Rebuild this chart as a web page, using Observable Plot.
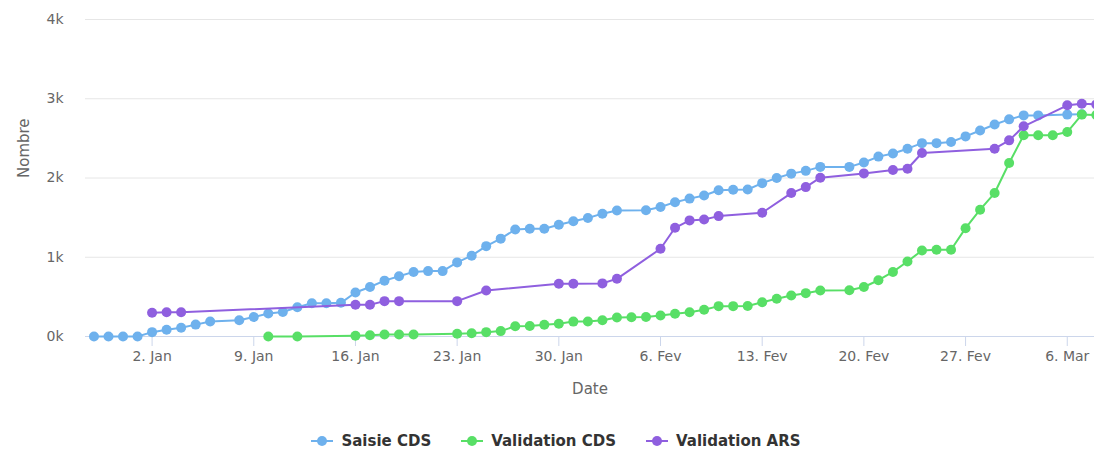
<!DOCTYPE html>
<html><head><meta charset="utf-8">
<script src="https://cdn.jsdelivr.net/npm/d3@7"></script>
<script src="https://cdn.jsdelivr.net/npm/@observablehq/plot@0.6"></script>
<style>
body{margin:0;background:#fff;font-family:"DejaVu Sans",sans-serif;}
#chart svg{display:block;}
#legend{display:flex;justify-content:center;align-items:center;gap:30px;padding-top:20px;padding-left:18px;height:22px;font-family:"DejaVu Sans",sans-serif;font-size:15px;font-weight:bold;color:#333;}
#legend .item{display:flex;align-items:center;gap:8px;}
</style></head><body>
<div id="chart"></div>
<div id="legend"></div>
<script>
// ---- data ----
const seriesNames = ["Saisie CDS", "Validation CDS", "Validation ARS"];
const seriesColors = ["#6eb1ed", "#58df66", "#8f5fdf"];

const saisieDates = ["2020-12-29","2020-12-30","2020-12-31","2021-01-01","2021-01-02","2021-01-03","2021-01-04","2021-01-05","2021-01-06","2021-01-08","2021-01-09","2021-01-10","2021-01-11","2021-01-12","2021-01-13","2021-01-14","2021-01-15","2021-01-16","2021-01-17","2021-01-18","2021-01-19","2021-01-20","2021-01-21","2021-01-22","2021-01-23","2021-01-24","2021-01-25","2021-01-26","2021-01-27","2021-01-28","2021-01-29","2021-01-30","2021-01-31","2021-02-01","2021-02-02","2021-02-03","2021-02-05","2021-02-06","2021-02-07","2021-02-08","2021-02-09","2021-02-10","2021-02-11","2021-02-12","2021-02-13","2021-02-14","2021-02-15","2021-02-16","2021-02-17","2021-02-19","2021-02-20","2021-02-21","2021-02-22","2021-02-23","2021-02-24","2021-02-25","2021-02-26","2021-02-27","2021-02-28","2021-03-01","2021-03-02","2021-03-03","2021-03-04","2021-03-06","2021-03-07"];
const saisieValues = [0,0,0,0,55,85,110,150,190,205,245,290,310,370,420,420,425,555,625,705,760,815,825,825,935,1020,1140,1235,1350,1360,1360,1410,1455,1495,1550,1590,1592,1635,1695,1740,1780,1845,1852,1855,1935,2000,2055,2090,2140,2140,2195,2270,2310,2370,2440,2440,2455,2525,2600,2675,2740,2790,2790,2800,2805];

const validCdsDates = ["2021-01-10","2021-01-12","2021-01-16","2021-01-17","2021-01-18","2021-01-19","2021-01-20","2021-01-23","2021-01-24","2021-01-25","2021-01-26","2021-01-27","2021-01-28","2021-01-29","2021-01-30","2021-01-31","2021-02-01","2021-02-02","2021-02-03","2021-02-04","2021-02-05","2021-02-06","2021-02-07","2021-02-08","2021-02-09","2021-02-10","2021-02-11","2021-02-12","2021-02-13","2021-02-14","2021-02-15","2021-02-16","2021-02-17","2021-02-19","2021-02-20","2021-02-21","2021-02-22","2021-02-23","2021-02-24","2021-02-25","2021-02-26","2021-02-27","2021-02-28","2021-03-01","2021-03-02","2021-03-03","2021-03-04","2021-03-05","2021-03-06","2021-03-07","2021-03-08"];
const validCdsValues = [0,0,10,15,25,25,25,35,42,55,68,130,132,148,160,188,190,205,240,244,245,265,287,307,337,383,383,385,433,476,518,547,581,583,625,710,815,947,1086,1094,1094,1367,1600,1810,2190,2540,2540,2540,2580,2800,2795];

const validArsDates = ["2021-01-02","2021-01-03","2021-01-04","2021-01-16","2021-01-17","2021-01-18","2021-01-19","2021-01-23","2021-01-25","2021-01-30","2021-01-31","2021-02-02","2021-02-03","2021-02-06","2021-02-07","2021-02-08","2021-02-09","2021-02-10","2021-02-13","2021-02-15","2021-02-16","2021-02-17","2021-02-20","2021-02-22","2021-02-23","2021-02-24","2021-03-01","2021-03-02","2021-03-03","2021-03-06","2021-03-07","2021-03-08"];
const validArsValues = [300,305,305,400,400,446,446,446,580,665,665,670,728,1107,1372,1465,1477,1519,1562,1810,1885,2004,2058,2100,2117,2315,2370,2475,2652,2917,2938,2929];

const xTickDates = ["2021-01-02","2021-01-09","2021-01-16","2021-01-23","2021-01-30","2021-02-06","2021-02-13","2021-02-20","2021-02-27","2021-03-06"];
const xTickLabels = ["2. Jan","9. Jan","16. Jan","23. Jan","30. Jan","6. Fev","13. Fev","20. Fev","27. Fev","6. Mar"];
const yTickValues = [0,1000,2000,3000,4000];
const yTickLabels = ["0k","1k","2k","3k","4k"];
const xTitle = "Date";
const yTitle = "Nombre";

// ---- build ----
const toRows = (dates, values, name) => dates.map((d, i) => ({date: new Date(d + "T00:00:00Z"), value: values[i], series: name}));
const allSeries = [
  toRows(saisieDates, saisieValues, seriesNames[0]),
  toRows(validCdsDates, validCdsValues, seriesNames[1]),
  toRows(validArsDates, validArsValues, seriesNames[2])
];
const xTicks = xTickDates.map(d => new Date(d + "T00:00:00Z"));
const xLabelMap = new Map(xTicks.map((d, i) => [d.getTime(), xTickLabels[i]]));
const yLabelMap = new Map(yTickValues.map((v, i) => [v, yTickLabels[i]]));

const xDomain = [new Date(Date.UTC(2020, 11, 28, 10)), new Date(Date.UTC(2021, 2, 7, 21))];

const seriesMarks = allSeries.flatMap((rows, i) => [
  Plot.line(rows, {x: "date", y: "value", stroke: seriesColors[i], strokeWidth: 2}),
  Plot.dot(rows, {x: "date", y: "value", fill: seriesColors[i], r: 5, stroke: "none"})
]);

const chart = Plot.plot({
  width: 1094, height: 410,
  marginLeft: 85, marginRight: 0, marginTop: 19, marginBottom: 74,
  style: {fontFamily: '"DejaVu Sans", sans-serif', fontSize: "14px", color: "#666", background: "#fff", overflow: "hidden"},
  x: {type: "utc", domain: xDomain},
  y: {domain: [0, 4000]},
  marks: [
    Plot.gridY(yTickValues, {stroke: "#e6e6e6", strokeOpacity: 1, strokeWidth: 1}),
    Plot.ruleY([0], {stroke: "#ccd6eb"}),
    Plot.axisY(yTickValues, {tickSize: 0, tickPadding: 22, tickFormat: v => yLabelMap.get(v), label: null, fill: "#666", fontSize: 14}),
    Plot.axisX(xTicks, {tickSize: 10, tickPadding: 5, stroke: "#ccd6eb", tickFormat: d => xLabelMap.get(d.getTime()), label: null, fill: "#666", fontSize: 14}),
    Plot.text([xTitle], {frameAnchor: "bottom", dy: 57, fontSize: 15, fill: "#666"}),
    Plot.text([yTitle], {frameAnchor: "left", dx: -61, rotate: -90, fontSize: 15, fill: "#666"}),
    ...seriesMarks
  ]
});
document.getElementById("chart").appendChild(chart);

const legend = document.getElementById("legend");
seriesNames.forEach((name, i) => {
  const item = document.createElement("div");
  item.className = "item";
  item.innerHTML = `<svg width="22" height="12"><line x1="0" x2="22" y1="6" y2="6" stroke="${seriesColors[i]}" stroke-width="2"/><circle cx="11" cy="6" r="5" fill="${seriesColors[i]}"/></svg><span>${name}</span>`;
  legend.appendChild(item);
});
</script>
</body></html>
